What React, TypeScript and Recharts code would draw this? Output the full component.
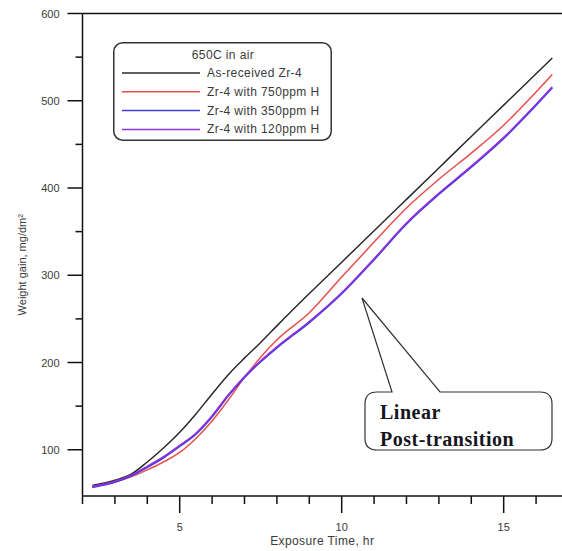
import React from 'react';
import {
  Legend,
  Line,
  LineChart,
  ReferenceLine,
  XAxis,
  YAxis,
} from 'recharts';

// exposure time (hr) and weight gain (mg/dm2)
const timeHr = [2.3, 3, 3.5, 4, 4.5, 5, 5.5, 6, 6.5, 7, 7.5, 8, 9, 10, 11, 12, 13, 14, 15, 16, 16.5];
const asReceived = [59, 65, 72, 86, 102, 120, 141, 164, 186, 205, 223, 242, 279, 315, 351, 387, 423, 459, 495, 531, 549];
const h750 = [58, 63, 69, 77, 86, 97, 113, 133, 157, 183, 206, 226, 257, 298, 338, 377, 410, 440, 472, 510, 530];
const h350 = [57, 63, 70, 80, 91, 104, 118, 138, 162, 183, 201, 217, 246, 279, 318, 359, 393, 424, 457, 495, 515];
const h120 = [58, 64, 71, 81, 92, 105, 119, 139, 163, 184, 202, 218, 247, 280, 319, 360, 394, 425, 458, 496, 516];

const xTicks = [2, 3, 4, 5, 6, 7, 8, 9, 10, 11, 12, 13, 14, 15, 16];
const yTicks = [100, 150, 200, 250, 300, 350, 400, 450, 500, 550, 600];

const legendTitle = '650C in air';

const series = [
  { key: 'asReceived', name: 'As-received Zr-4', color: '#2a2a2a', width: 1.5 },
  { key: 'h750', name: 'Zr-4 with 750ppm H', color: '#e5504c', width: 1.5 },
  { key: 'h350', name: 'Zr-4 with 350ppm H', color: '#3d3de0', width: 2 },
  { key: 'h120', name: 'Zr-4 with 120ppm H', color: '#9430dc', width: 1.5 },
];

const rows = timeHr.map((t, i) => ({
  t,
  asReceived: asReceived[i],
  h750: h750[i],
  h350: h350[i],
  h120: h120[i],
}));

const SANS = '"Liberation Sans", Arial, sans-serif';
const SERIF = '"Liberation Serif", "Times New Roman", serif';
const AXIS = '#111';
const TEXT = '#3a3a3a';

function XTick(props: any) {
  const { x, y, payload } = props;
  const major = payload.value % 5 === 0;
  return (
    <g>
      <line x1={x} x2={x} y1={y} y2={y + (major ? 17 : 8)} stroke={AXIS} strokeWidth={1.5} />
      {major && (
        <text x={x} y={y + 35} textAnchor="middle" fontSize={11} fill={TEXT} fontFamily={SANS}>
          {payload.value}
        </text>
      )}
    </g>
  );
}

function YTick(props: any) {
  const { x, y, payload } = props;
  const major = payload.value % 100 === 0;
  return (
    <g>
      <line x1={x - (major ? 15 : 7)} x2={x} y1={y} y2={y} stroke={AXIS} strokeWidth={1.5} />
      {major && (
        <text x={x - 23} y={y + 4} textAnchor="end" fontSize={11} fill={TEXT} fontFamily={SANS}>
          {payload.value}
        </text>
      )}
    </g>
  );
}

// legend drawn from our own series list so the order stays as in the figure
function LegendBox() {
  return (
    <svg width={219} height={99} style={{ display: 'block' }}>
      <rect x={0.75} y={0.75} width={217.5} height={97.5} rx={9} fill="#fff" stroke="#333" strokeWidth={1.5} />
      <text x={110} y={13} textAnchor="middle" dominantBaseline="central" fontSize={12} fill={TEXT} fontFamily={SANS} letterSpacing={0.4}>
        {legendTitle}
      </text>
      {series.map((s, i) => {
        const cy = 31 + i * 18.8;
        return (
          <g key={s.key}>
            <line x1={9} x2={87} y1={cy} y2={cy} stroke={s.color} strokeWidth={1.5} />
            <text x={94} y={cy} dominantBaseline="central" fontSize={12} fill={TEXT} fontFamily={SANS} letterSpacing={0.4}>
              {s.name}
            </text>
          </g>
        );
      })}
    </svg>
  );
}

function Callout() {
  return (
    <svg width={562} height={551} style={{ position: 'absolute', left: 0, top: 0, pointerEvents: 'none' }}>
      <path
        d="M392,392 L362,298 L440,392 L540,392 Q552,392 552,404 L552,438 Q552,450 540,450 L377,450 Q365,450 365,438 L365,404 Q365,392 377,392 Z"
        fill="#fff"
        stroke="#333"
        strokeWidth={1.2}
      />
      <text x={380} y={419} fontSize={20} fontWeight="bold" fill="#151520" fontFamily={SERIF} letterSpacing={0.5}>
        Linear
      </text>
      <text x={380} y={446} fontSize={20} fontWeight="bold" fill="#151520" fontFamily={SERIF} letterSpacing={0.5}>
        Post-transition
      </text>
    </svg>
  );
}

function WeightGainChart() {
  return (
    <div style={{ position: 'absolute', left: 0, top: 0, width: 562, height: 551, background: '#fff' }}>
      <LineChart width={562} height={551} data={rows} margin={{ top: 13.5, right: 0, left: 0, bottom: 0 }}>
        <XAxis
          dataKey="t"
          type="number"
          domain={[2, 16.8]}
          ticks={xTicks}
          allowDataOverflow
          height={55}
          tickSize={0}
          tickMargin={0}
          tickLine={false}
          tick={<XTick />}
          axisLine={{ stroke: AXIS, strokeWidth: 1.5 }}
          label={{
            value: 'Exposure Time, hr',
            position: 'insideBottom',
            offset: 6,
            fontSize: 12,
            fill: TEXT,
            fontFamily: SANS,
            letterSpacing: 0.4,
          }}
        />
        <YAxis
          type="number"
          domain={[47, 600]}
          ticks={yTicks}
          allowDataOverflow
          width={82.5}
          tickSize={0}
          tickMargin={0}
          tickLine={false}
          tick={<YTick />}
          axisLine={{ stroke: AXIS, strokeWidth: 1.5 }}
          label={{
            value: 'Weight gain, mg/dm²',
            angle: -90,
            position: 'insideLeft',
            offset: 22,
            dy: 10,
            fontSize: 11,
            fill: TEXT,
            fontFamily: SANS,
            style: { textAnchor: 'middle' },
          }}
        />
        <ReferenceLine y={600} stroke={AXIS} strokeWidth={1.5} />
        <Legend
          layout="horizontal"
          align="center"
          verticalAlign="middle"
          content={<LegendBox />}
          wrapperStyle={{ left: 113, top: 42, width: 219, height: 99 }}
        />
        {series.map((s) => (
          <Line
            key={s.key}
            type="monotone"
            dataKey={s.key}
            name={s.name}
            stroke={s.color}
            strokeWidth={s.width}
            dot={false}
            isAnimationActive={false}
          />
        ))}
      </LineChart>
      <Callout />
    </div>
  );
}

export default function App() {
  return <WeightGainChart />;
}
